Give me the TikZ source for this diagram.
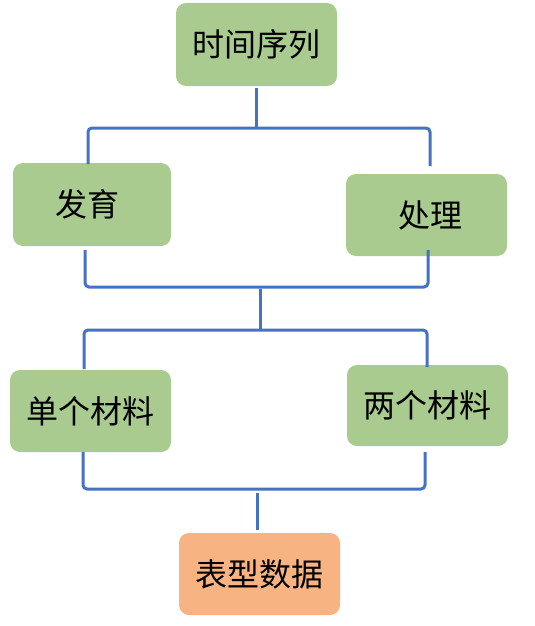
\documentclass[tikz,border=0pt]{standalone}
\usepackage{fontspec}
\newfontfamily\cjk{Noto Sans CJK SC}
\definecolor{boxgreen}{HTML}{A9CB8F}
\definecolor{boxorange}{HTML}{F8B382}
\definecolor{linkblue}{HTML}{4472C4}
\tikzset{
  box/.style={rectangle, rounded corners=10pt, fill=boxgreen, minimum width=161pt, minimum height=83pt, inner sep=0pt, font=\cjk\fontsize{32}{38}\selectfont},
  outbox/.style={box, fill=boxorange},
  conn/.style={draw=linkblue, line width=3pt, rounded corners=4pt},
}
\begin{document}
\begin{tikzpicture}[x=1pt,y=-1pt]
\useasboundingbox (0,0) rectangle (535,626);
\node[box] (ts) at (256.5,44.5) {时间序列};
\node[box, minimum width=158pt] (fy) at (92,204.5) {\hspace*{-10pt}发育};
\node[box, minimum height=82pt] (cl) at (426.5,215) {\hspace*{8pt}处理};
\node[box, minimum height=82pt] (dg) at (90.5,411) {单个材料};
\node[box, minimum height=81pt] (lg) at (427.5,405.5) {两个材料};
\node[outbox, minimum height=82pt] (bx) at (259.5,574) {表型数据};
% bracket 1
\coordinate (t1) at (256,88); \coordinate (t2) at (256,128);
\coordinate (a1) at (88,164); \coordinate (a2) at (88,128);
\coordinate (a3) at (430,128); \coordinate (a4) at (430,166);
\draw[conn] (t1) -- (t2);
\draw[conn] (a1) -- (a2) -- (a3) -- (a4);
% bracket 2
\coordinate (b1) at (85,250); \coordinate (b2) at (85,287);
\coordinate (b3) at (428,287); \coordinate (b4) at (428,250);
\draw[conn] (b1) -- (b2) -- (b3) -- (b4);
\coordinate (m1) at (260,289); \coordinate (m2) at (260,330);
\draw[conn] (m1) -- (m2);
% bracket 3
\coordinate (c1) at (84,369); \coordinate (c2) at (84,330);
\coordinate (c3) at (427,330); \coordinate (c4) at (427,367);
\draw[conn] (c1) -- (c2) -- (c3) -- (c4);
% bracket 4
\coordinate (d1) at (83,452); \coordinate (d2) at (83,489);
\coordinate (d3) at (425,489); \coordinate (d4) at (425,452);
\draw[conn] (d1) -- (d2) -- (d3) -- (d4);
\coordinate (n1) at (257,493); \coordinate (n2) at (257,530);
\draw[conn] (n1) -- (n2);
\end{tikzpicture}
\end{document}
